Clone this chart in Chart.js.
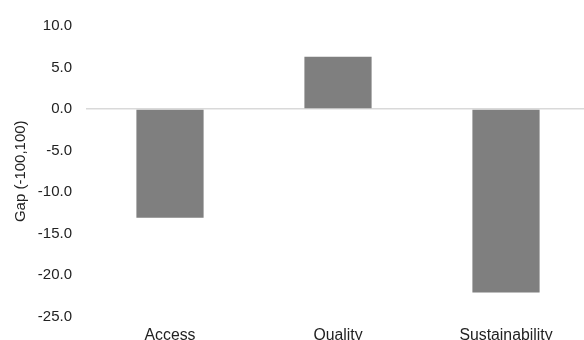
<!DOCTYPE html>
<html>
<head>
<meta charset="utf-8">
<script src="https://cdn.jsdelivr.net/npm/chart.js@4/dist/chart.umd.min.js"></script>
<style>
html,body{margin:0;padding:0;overflow:hidden;background:#fff;width:584px;height:340px;}
#wrap{position:absolute;left:0;top:0;width:590px;height:350px;}
</style>
</head>
<body>
<div id="wrap"><canvas id="c" width="590" height="350"></canvas></div>
<script>
const categories = ["Access", "Quality", "Sustainability"];
const gapValues = [-13.1, 6.3, -22.1];
const yMin = -25, yMax = 10, yStep = 5;
const yTitle = "Gap (-100,100)";

const FAMILY = "'Liberation Sans', Arial, sans-serif";
const YFONT = {family: FAMILY, size: 15};
const XFONT = {family: FAMILY, size: 15.8};

new Chart(document.getElementById('c'), {
  type: 'bar',
  data: {
    labels: categories,
    datasets: [{
      data: gapValues,
      backgroundColor: '#7f7f7f',
      borderWidth: 0,
      barPercentage: 0.4,
      categoryPercentage: 1.0
    }]
  },
  options: {
    responsive: false,
    animation: false,
    devicePixelRatio: 1,
    layout: {padding: {top: 26, left: 0, right: 0, bottom: 0}},
    plugins: {legend: {display: false}, tooltip: {enabled: false}},
    scales: {
      x: {
        grid: {display: false, drawTicks: false},
        border: {display: false},
        ticks: {font: XFONT, color: '#222', padding: 10, maxRotation: 0, autoSkip: false},
        afterFit: s => { s.height = 350 - 26 - 290.5; }
      },
      y: {
        min: yMin, max: yMax,
        grid: {
          drawTicks: false,
          color: ctx => (ctx.tick && ctx.tick.value === 0) ? '#d9d9d9' : 'rgba(0,0,0,0)',
          lineWidth: 1.5
        },
        border: {display: false},
        ticks: {stepSize: yStep, font: YFONT, color: '#222', padding: 14,
                callback: v => Number(v).toFixed(1)},
        title: {display: true, text: yTitle, font: YFONT, color: '#222', padding: {top: 12, bottom: 0}},
        afterFit: s => { s.width = 86; }
      }
    }
  }
});
</script>
</body>
</html>
